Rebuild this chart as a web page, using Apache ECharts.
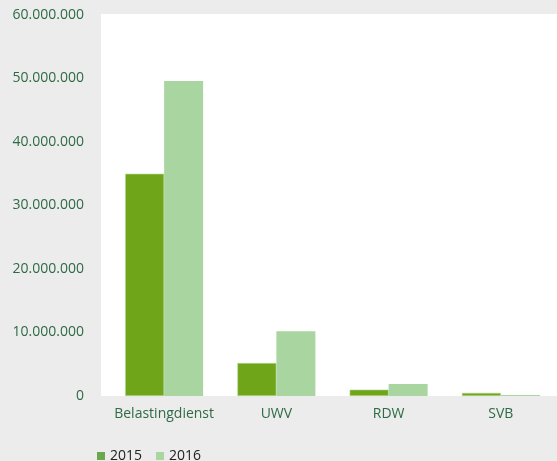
<!DOCTYPE html>
<html>
<head>
<meta charset="utf-8">
<script src="https://cdn.jsdelivr.net/npm/echarts@6/dist/echarts.min.js"></script>
<style>
html,body{margin:0;padding:0;background:#ececec;}
#c{width:557px;height:461px;}
</style>
</head>
<body>
<div id="c"></div>
<script>
const categories = ['Belastingdienst', 'UWV', 'RDW', 'SVB'];
const seriesNames = ['2015', '2016'];
const values2015 = [35000000, 5200000, 1000000, 500000];
const values2016 = [49600000, 10200000, 1900000, 150000];
const yTicks = [0, 10000000, 20000000, 30000000, 40000000, 50000000, 60000000];

const fmt = v => String(v).replace(/\B(?=(\d{3})+(?!\d))/g, '.');
const font = '"Open Sans", "Noto Sans", sans-serif';
const chart = echarts.init(document.getElementById('c'), null, {renderer: 'canvas'});
chart.setOption({
  backgroundColor: '#ececec',
  animation: false,
  legend: {
    left: 92, top: 444,
    itemWidth: 8, itemHeight: 8, itemGap: 14,
    icon: 'rect',
    textStyle: {color: '#222', fontSize: 14, fontFamily: font},
    data: [
      {name: seriesNames[0], itemStyle: {color: '#6aa84f', borderWidth: 0}},
      {name: seriesNames[1], itemStyle: {color: '#a9d5a0', borderWidth: 0}}
    ]
  },
  grid: [
    {left: 108, top: 15, width: 453, bottom: 65, containLabel: false},
    {left: 101, top: 14, right: 0, bottom: 65, show: true, backgroundColor: '#ffffff', borderWidth: 0, z: -1}
  ],
  xAxis: [
    {type: 'category', gridIndex: 0, data: categories,
     axisLine: {show: false}, axisTick: {show: false},
     axisLabel: {color: '#2e6a45', fontSize: 14, fontFamily: font, margin: 11, interval: 0}},
    {type: 'value', gridIndex: 1, show: false}
  ],
  yAxis: [
    {type: 'value', gridIndex: 0, min: yTicks[0], max: yTicks[yTicks.length-1], interval: 10000000,
     splitLine: {show: false}, axisLine: {show: false}, axisTick: {show: false},
     axisLabel: {color: '#2e6a45', fontSize: 14, fontFamily: font, margin: 24, formatter: fmt}},
    {type: 'value', gridIndex: 1, show: false}
  ],
  series: [
    {name: seriesNames[0], type: 'bar', data: values2015, barWidth: 39, barGap: '0%',
     itemStyle: {color: '#6fa519', borderColor: '#b8d89e', borderWidth: 0.6}},
    {name: seriesNames[1], type: 'bar', data: values2016, barWidth: 39, barGap: '0%',
     itemStyle: {color: '#a9d5a0'}}
  ]
});
</script>
</body>
</html>
